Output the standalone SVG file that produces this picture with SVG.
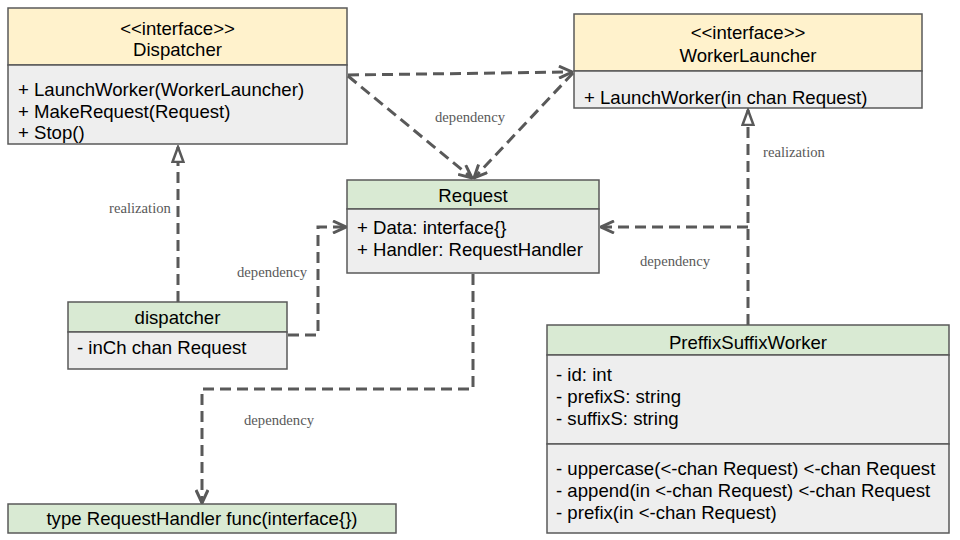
<svg xmlns="http://www.w3.org/2000/svg" width="960" height="540" viewBox="0 0 960 540">
<style>
.box{stroke:#595959;stroke-width:1.5}
.hy{fill:#fff2cc}
.hg{fill:#d9ead3}
.bd{fill:#eeeeee}
.t{font-family:"Liberation Sans",Arial,sans-serif;font-size:18.6px;fill:#000}
.c{text-anchor:middle}
.lbl{font-family:"Liberation Serif","Times New Roman",serif;font-size:14.67px;fill:#595959;text-anchor:middle}
.ln{fill:none;stroke:#595959;stroke-width:3;stroke-dasharray:11 6}
</style>
<defs>
<marker id="open" markerUnits="userSpaceOnUse" viewBox="0 0 16 14" markerWidth="16" markerHeight="14" refX="15" refY="7" orient="auto">
<path d="M2,1 L15,7 L2,13" fill="none" stroke="#595959" stroke-width="3"/>
</marker>
<marker id="tri" markerUnits="userSpaceOnUse" viewBox="0 0 18 14" markerWidth="18" markerHeight="14" refX="16" refY="7" orient="auto">
<path d="M1,1.5 L16,7 L1,12.5 Z" fill="#ffffff" stroke="#595959" stroke-width="2.5"/>
</marker>
</defs>
<rect width="960" height="540" fill="#ffffff"/>

<g id="connectors">
<path class="ln" d="M348,75 L572,72" marker-end="url(#open)"/>
<path class="ln" d="M348,76 L472,178" marker-end="url(#open)"/>
<path class="ln" d="M573,73 L474,178" marker-end="url(#open)"/>
<path class="ln" d="M178,302 L178,147" marker-end="url(#tri)"/>
<path class="ln" d="M288,335 L318,335 L318,227 L346,227" marker-end="url(#open)"/>
<path class="ln" d="M748,325 L748,110" marker-end="url(#tri)"/>
<path class="ln" d="M748,227 L601,227" marker-end="url(#open)"/>
<path class="ln" d="M473,274 L473,389 L202,389 L202,503" marker-end="url(#open)"/>
<text class="lbl" x="470" y="122">dependency</text>
<text class="lbl" x="140" y="213">realization</text>
<text class="lbl" x="272" y="277">dependency</text>
<text class="lbl" x="794" y="157">realization</text>
<text class="lbl" x="675" y="266">dependency</text>
<text class="lbl" x="279" y="425">dependency</text>
</g>

<g id="Dispatcher">
<rect class="box hy" x="8" y="8" width="339" height="57"/>
<rect class="box bd" x="8" y="65" width="339" height="79"/>
<text class="t c" x="177.5" y="34.5">&lt;&lt;interface&gt;&gt;</text>
<text class="t c" x="177.5" y="55.5">Dispatcher</text>
<text class="t" x="18" y="95.5">+ LaunchWorker(WorkerLauncher)</text>
<text class="t" x="18" y="117.5">+ MakeRequest(Request)</text>
<text class="t" x="18" y="138.5">+ Stop()</text>
</g>

<g id="WorkerLauncher">
<rect class="box hy" x="574" y="14" width="348" height="57"/>
<rect class="box bd" x="574" y="71" width="348" height="37"/>
<text class="t c" x="748" y="38.5">&lt;&lt;interface&gt;&gt;</text>
<text class="t c" x="748" y="61.5">WorkerLauncher</text>
<text class="t" x="584" y="103.5">+ LaunchWorker(in chan Request)</text>
</g>

<g id="Request">
<rect class="box hg" x="347" y="180" width="252" height="29"/>
<rect class="box bd" x="347" y="209" width="252" height="64"/>
<text class="t c" x="473" y="201.5">Request</text>
<text class="t" x="357" y="233.5">+ Data: interface{}</text>
<text class="t" x="357" y="255.5">+ Handler: RequestHandler</text>
</g>

<g id="dispatcher">
<rect class="box hg" x="68" y="302" width="219" height="30"/>
<rect class="box bd" x="68" y="332" width="219" height="37"/>
<text class="t c" x="177.5" y="323.5">dispatcher</text>
<text class="t" x="77" y="353.5">- inCh chan Request</text>
</g>

<g id="PreffixSuffixWorker">
<rect class="box hg" x="547" y="325" width="402" height="30"/>
<rect class="box bd" x="547" y="355" width="402" height="89"/>
<rect class="box bd" x="547" y="444" width="402" height="89"/>
<text class="t c" x="748" y="348.5">PreffixSuffixWorker</text>
<text class="t" x="556" y="380.5">- id: int</text>
<text class="t" x="556" y="402.5">- prefixS: string</text>
<text class="t" x="556" y="424.5">- suffixS: string</text>
<text class="t" x="556" y="474.5">- uppercase(&lt;-chan Request) &lt;-chan Request</text>
<text class="t" x="556" y="496.5">- append(in &lt;-chan Request) &lt;-chan Request</text>
<text class="t" x="556" y="518.5">- prefix(in &lt;-chan Request)</text>
</g>

<g id="RequestHandler">
<rect class="box hg" x="8" y="504" width="388" height="29"/>
<text class="t c" x="202" y="524.5">type RequestHandler func(interface{})</text>
</g>
</svg>
